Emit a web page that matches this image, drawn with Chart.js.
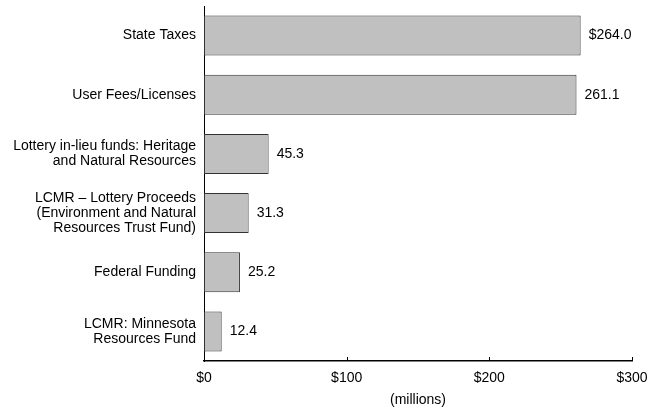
<!DOCTYPE html>
<html>
<head>
<meta charset="utf-8">
<script src="https://cdn.jsdelivr.net/npm/chart.js@4/dist/chart.umd.min.js"></script>
<style>
  html, body { margin: 0; padding: 0; background: #fff; }
  #wrap { width: 648px; height: 413px; }
</style>
</head>
<body>
<div id="wrap"><canvas id="funding"></canvas></div>
<script>
const sources = [
  ["State Taxes"],
  ["User Fees/Licenses"],
  ["Lottery in-lieu funds: Heritage", "and Natural Resources"],
  ["LCMR \u2013 Lottery Proceeds", "(Environment and Natural", "Resources Trust Fund)"],
  ["Federal Funding"],
  ["LCMR: Minnesota", "Resources Fund"]
];
const amounts = [264.0, 261.1, 45.3, 31.3, 25.2, 12.4];
const valueLabels = ["$264.0", "261.1", "45.3", "31.3", "25.2", "12.4"];
const xTicks = [0, 100, 200, 300];

const FONT = "'Liberation Sans Narrow', 'Arial Narrow', Arial, sans-serif";

// value text at the end of each bar, plus short tick marks pointing up from the x axis
const barText = {
  id: "barText",
  afterDatasetsDraw(chart) {
    const ctx = chart.ctx;
    const meta = chart.getDatasetMeta(0);
    ctx.save();
    ctx.font = "14px " + FONT;
    ctx.fillStyle = "#000";
    ctx.textAlign = "left";
    ctx.textBaseline = "middle";
    meta.data.forEach((bar, i) => {
      ctx.fillText(valueLabels[i], bar.x + 8, bar.y);
    });
    const xs = chart.scales.x;
    const bottom = chart.chartArea.bottom;
    ctx.strokeStyle = "#000";
    ctx.lineWidth = 1;
    xTicks.forEach(v => {
      const px = Math.round(xs.getPixelForValue(v)) + 0.5;
      ctx.beginPath();
      ctx.moveTo(px, bottom);
      ctx.lineTo(px, bottom - 4);
      ctx.stroke();
    });
    ctx.restore();
  }
};

new Chart(document.getElementById("funding"), {
  type: "bar",
  data: {
    labels: sources,
    datasets: [{
      data: amounts,
      backgroundColor: "#c0c0c0",
      borderColor: "#333",
      borderWidth: 1,
      borderSkipped: false,
      categoryPercentage: 1,
      barPercentage: 0.675
    }]
  },
  options: {
    indexAxis: "y",
    responsive: true,
    maintainAspectRatio: false,
    animation: false,
    layout: { padding: { top: 6, right: 16, left: 0, bottom: 0 } },
    plugins: {
      legend: { display: false },
      tooltip: { enabled: false }
    },
    scales: {
      x: {
        min: 0,
        max: 300,
        afterBuildTicks(scale) {
          scale.ticks = xTicks.map(v => ({ value: v }));
        },
        afterFit(scale) {
          scale.height = 52;
          scale.paddingLeft = 0;
          scale.paddingRight = 0;
        },
        grid: { display: false },
        border: { display: true, color: "#000", width: 1.5 },
        ticks: {
          color: "#000",
          font: { family: FONT, size: 14 },
          padding: 1,
          maxRotation: 0,
          callback: v => "$" + v
        },
        title: {
          display: true,
          text: "(millions)",
          color: "#000",
          font: { family: FONT, size: 14 },
          padding: { top: 0, bottom: 4 }
        }
      },
      y: {
        afterFit(scale) {
          scale.width = 204;
          scale.paddingTop = 0;
          scale.paddingBottom = 0;
        },
        grid: { display: false, drawTicks: false },
        border: { display: true, color: "#000", width: 1 },
        ticks: {
          color: "#000",
          font: { family: FONT, size: 14, lineHeight: 1.07 },
          padding: 8
        }
      }
    }
  },
  plugins: [barText]
});
</script>
</body>
</html>
